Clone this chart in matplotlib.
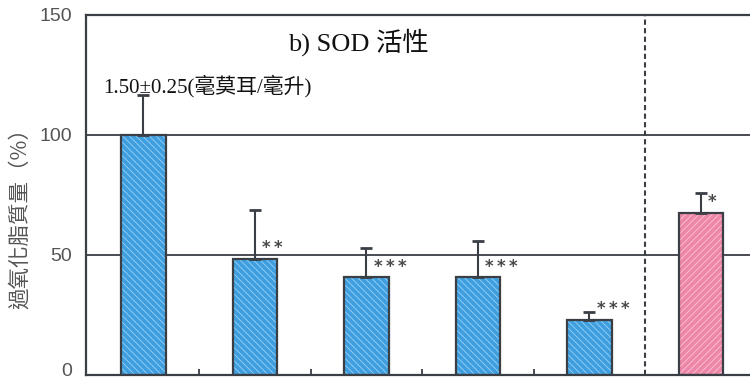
import matplotlib
matplotlib.use("Agg")
import matplotlib.pyplot as plt
from matplotlib.transforms import ScaledTranslation

# SOD activity groups (percent of control)
groups = ["control", "g1", "g2", "g3", "g4", "ref"]
values = [100.0, 48.3, 40.7, 40.7, 22.9, 67.6]
err_upper = [16.5, 20.4, 12.3, 15.3, 3.5, 8.4]
stars = ["", "**", "***", "***", "***", "*"]
fills = ["#3e9fe0"] * 5 + ["#ee86a8"]
hatch_colors = ["#9ed0f2"] * 5 + ["#f9c6d6"]
hatches = ["\\\\\\\\\\"] * 5 + ["/////"]
yticks = [0, 50, 100, 150]

plt.rcParams["hatch.linewidth"] = 0.6

fig = plt.figure(figsize=(7.5, 3.8), dpi=100)
ax = fig.add_axes([0.1147, 0.0132, 0.8853, 0.9474])

x = list(range(len(values)))
ink = "#3a3f45"

# reference lines at 50 and 100
for yv in (50, 100):
    ax.axhline(yv, color=ink, lw=1.3, zorder=1)

# separator between treatment groups and reference group
ax.axvline(4.5, color=ink, lw=1.5, ls=(0, (2.5, 1.6)), zorder=1)

for xi, v, fc, hc, h in zip(x, values, fills, hatch_colors, hatches):
    ax.bar(xi, v, width=0.4, color=fc, edgecolor=hc, hatch=h, lw=0, zorder=2)
    ax.bar(xi, v, width=0.4, fill=False, edgecolor=ink, lw=1.6, zorder=3)

ax.errorbar(x, values, yerr=[[0] * len(values), err_upper], fmt="none",
            ecolor=ink, elinewidth=1.5, capsize=4, capthick=2, zorder=4)

for xi, v, s in zip(x, values, stars):
    if s:
        ax.text(xi + 0.065, v + 4.5, "\u2009".join(s), ha="left", va="center",
                fontsize=12, color="#4a4a4a", family="DejaVu Sans",
                fontweight="bold", zorder=5)

ax.text(-0.365, 120.5, "1.50±0.25(毫莫耳/毫升)", ha="left", va="center",
        fontsize=15, color="#111111",
        family=["Liberation Serif", "Noto Sans CJK TC"])
ax.text(1.3, 138.5, "b) SOD 活性", ha="left", va="center", fontsize=19,
        color="#111111", family=["Liberation Serif", "Noto Sans CJK TC"])

ax.set_xlim(-0.515, 5.44)
ax.set_ylim(0, 150)
ax.set_yticks(yticks)
ax.set_yticklabels([str(t) for t in yticks], fontsize=14, color="#555555",
                   family="Liberation Sans")
ax.tick_params(axis="y", length=0, pad=10)
# lift the bottom label a little so it stays inside the figure
zero_lbl = ax.get_yticklabels()[0]
zero_lbl.set_transform(zero_lbl.get_transform()
                       + ScaledTranslation(0, 4 / 72, fig.dpi_scale_trans))
ax.set_xticks([0.5, 1.5, 2.5, 3.5])
ax.set_xticklabels([])
ax.tick_params(axis="x", direction="in", length=4, width=1.3, color=ink)

for side in ("left", "bottom", "top"):
    ax.spines[side].set_color(ink)
    ax.spines[side].set_linewidth(1.6)
ax.spines["right"].set_visible(False)

ax.set_ylabel("過氧化脂質量（%）", fontsize=15.5, color="#555555",
              family=["Noto Sans CJK TC", "DejaVu Sans"])
ax.yaxis.set_label_coords(-0.083, 0.45)

fig.savefig("out.png", dpi=100)
